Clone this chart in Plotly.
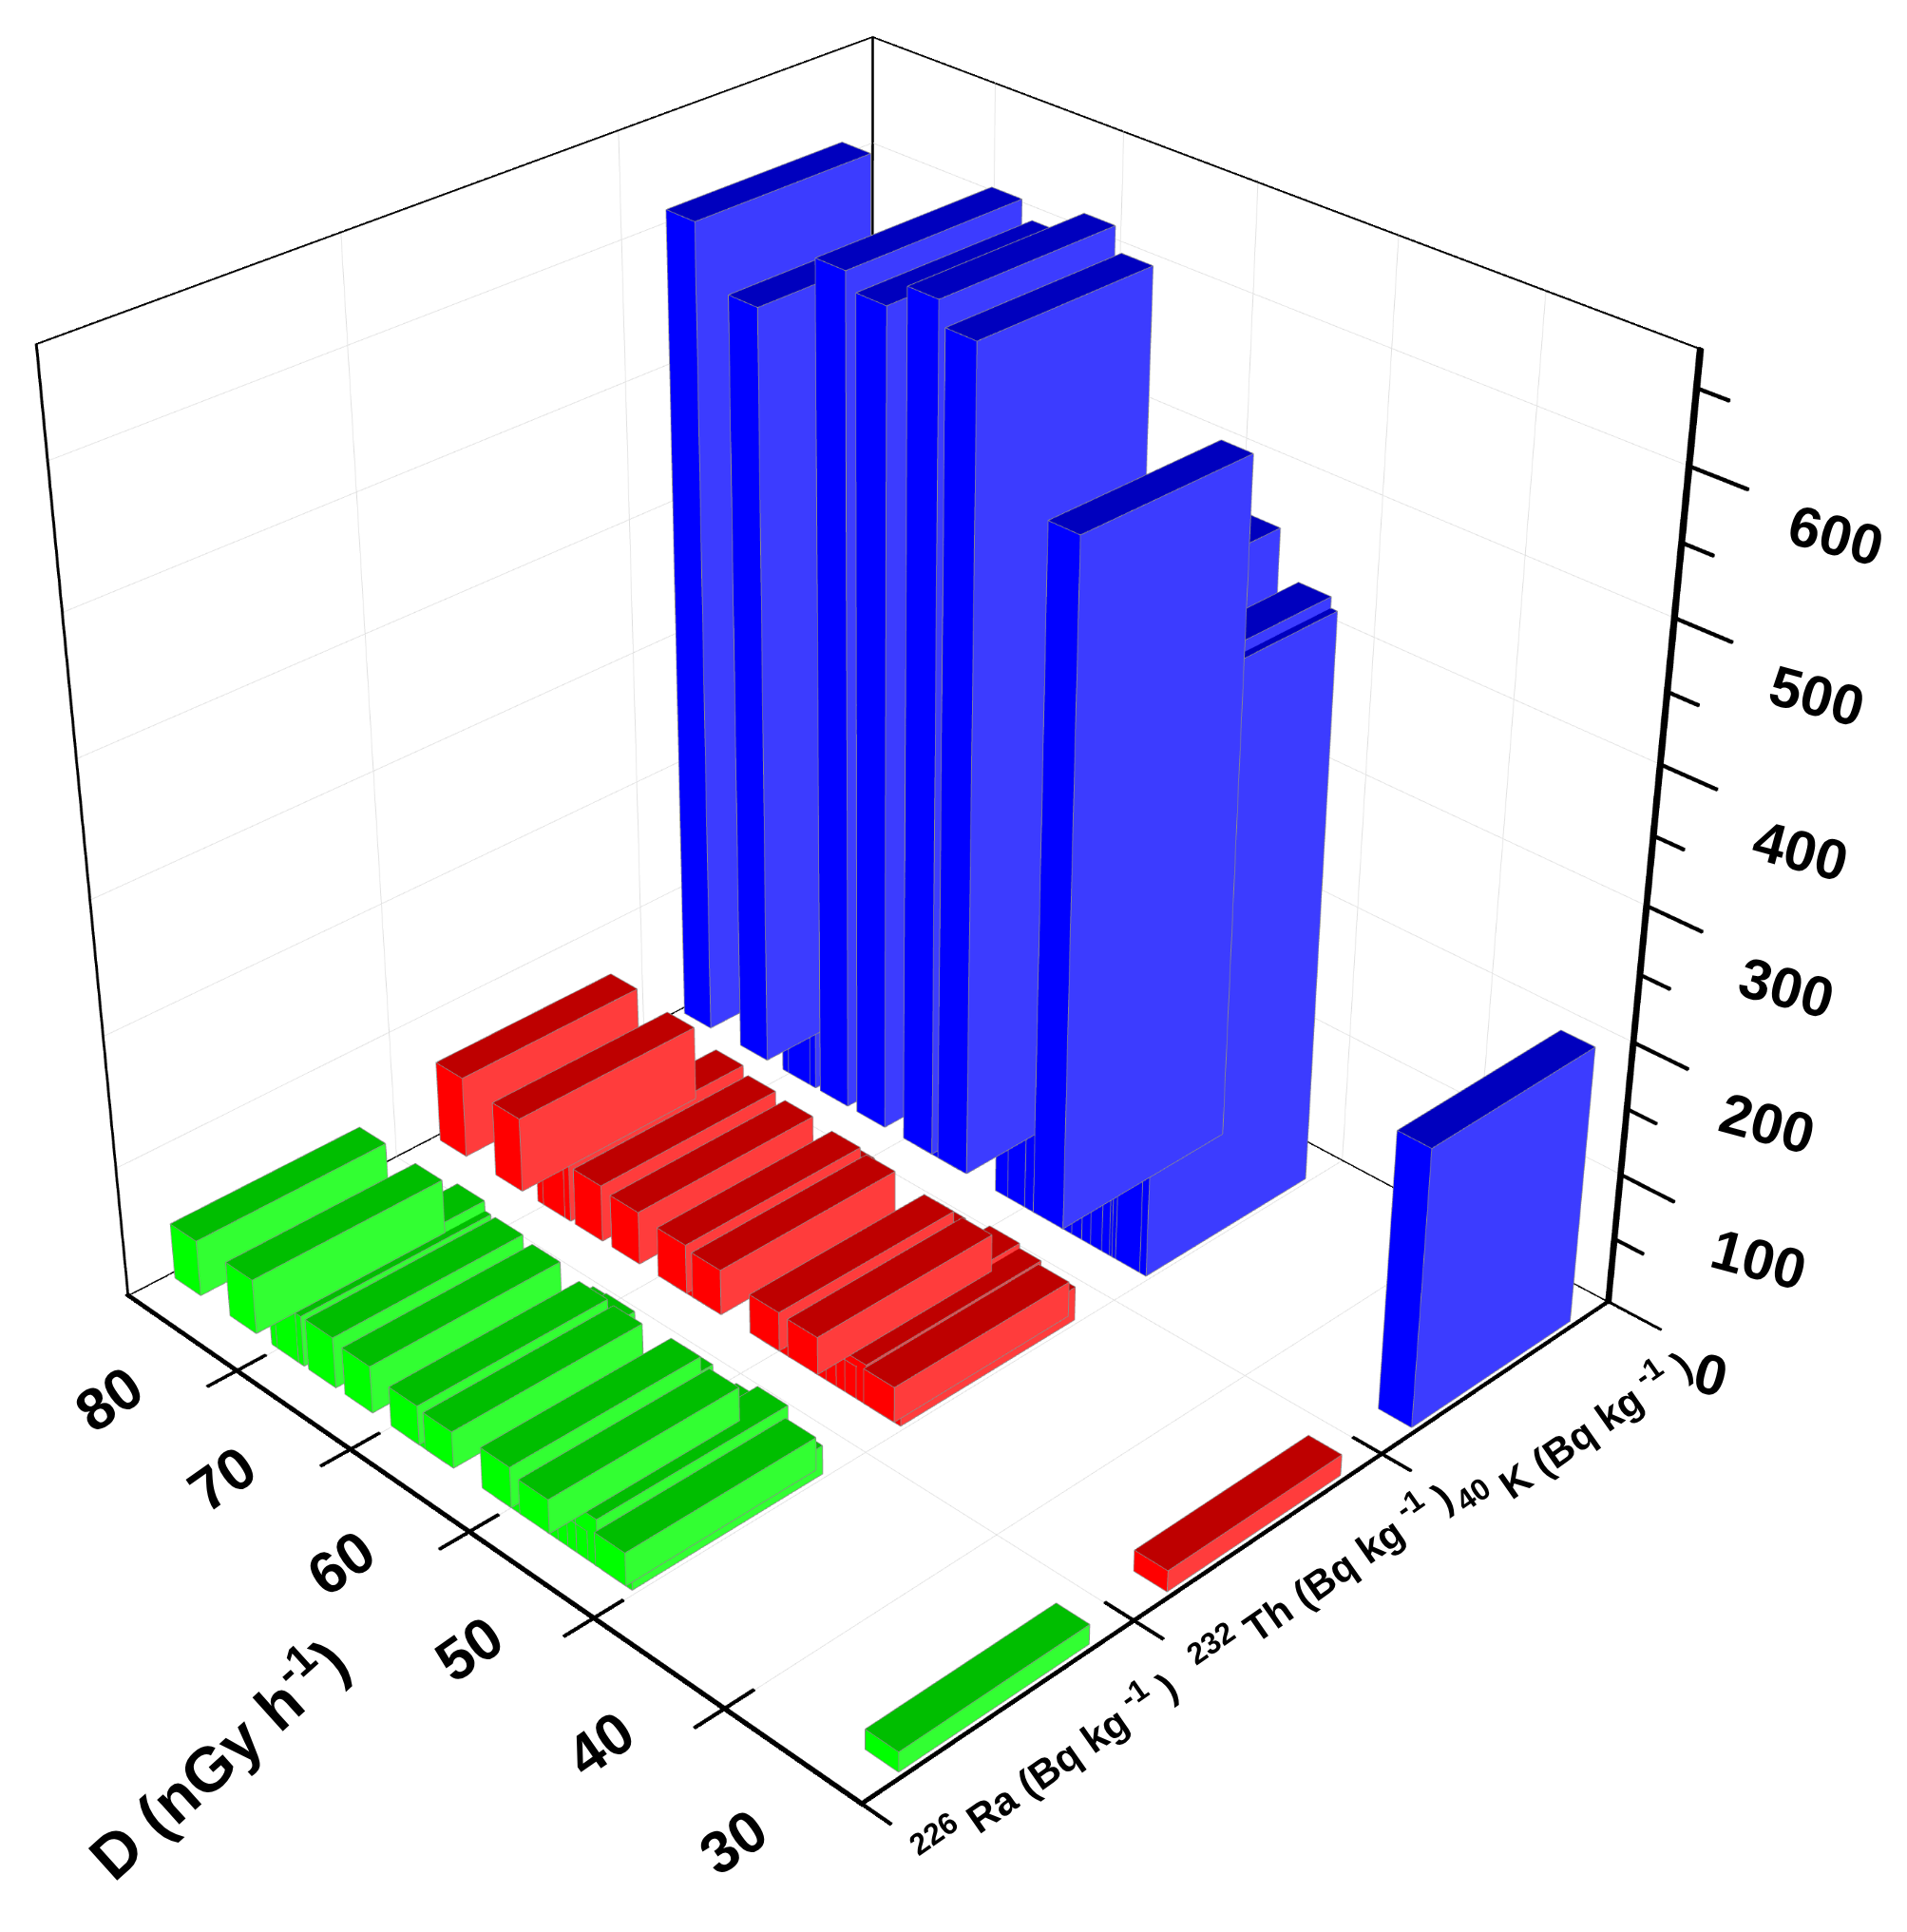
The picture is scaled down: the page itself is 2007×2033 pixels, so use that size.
import math
import plotly.graph_objects as go

# ---- data ----
D_VALUES = [88.3, 83.2, 78.9, 79.4, 76.1, 72.9, 68.9, 67.7, 66.6, 66.0, 61.2, 60.2, 58.1, 55.9, 55.0, 54.2, 52.0, 51.5, 31.6]
RA_226 = [43, 42, 39, 47, 39, 36, 30, 33, 34, 28, 31, 31, 26, 28, 22, 36, 25, 22, 15]
TH_232 = [63, 58, 50, 40, 44, 41, 38, 36, 33, 35, 30, 30, 29, 35, 25, 31, 27, 26, 16]
K_40 = [612, 571, 500, 490, 622, 610, 629, 600, 590, 612, 450, 440, 513, 470, 400, 405, 438, 430, 210]
UNDER_RA_TH = [0, 0, 1, 1, 0, 0, 0, 1, 1, 0, 0, 1, 0, 1, 1, 1, 0, 1, 0]
UNDER_K = [0, 0, 1, 1, 0, 0, 0, 1, 1, 0, 1, 1, 0, 1, 1, 1, 1, 1, 0]
D_TICKS = [30, 40, 50, 60, 70, 80]
Z_TICKS = [0, 100, 200, 300, 400, 500, 600]
Z_MINOR = [50, 150, 250, 350, 450, 550, 650]
SUP = '<sup><span style="font-size:32px">{}</span></sup>'
CATEGORY_LABELS = [SUP.format("226") + " Ra (Bq kg" + SUP.format(" -1") + " )",
                   SUP.format("232") + " Th (Bq kg" + SUP.format(" -1") + " )",
                   SUP.format("40") + " K (Bq kg" + SUP.format(" -1") + " )"]
AXIS_TITLE = "D (nGy h<sup>-1</sup>)"

W, H = 2007, 2033
BIG = 4250              # canvas large enough that plotly's fixed field of view gives the weak perspective of the reference
CENTER_PX = (913, 895)  # where the middle of the box falls in the page
LEFT, TOP = CENTER_PX[0] - BIG / 2, CENTER_PX[1] - BIG / 2

D_MIN, D_MAX = 30, 90
C_MIN, C_MAX = 0.5, 3.5
Z_MAX = 675
BAR_C, BAR_D = 0.70, 2.4
ASPECT_Z = 1.0

SERIES = [
    (RA_226, UNDER_RA_TH, 1, "#32ff32", "#00ff00", "#00be00"),
    (TH_232, UNDER_RA_TH, 2, "#ff3c3c", "#ff0000", "#be0000"),
    (K_40, UNDER_K, 3, "#3c3cff", "#0000ff", "#0000be"),
]

QUADS = [(0, 1, 5, 4), (3, 0, 4, 7), (4, 5, 6, 7), (1, 2, 6, 5), (2, 3, 7, 6), (0, 3, 2, 1)]
EDGES = [(0, 1), (1, 5), (5, 4), (4, 0), (0, 3), (3, 7), (7, 4), (5, 6), (6, 7)]
PX_C, PX_D, PX_Z = 3 / 1165, 60 / 1165, 675 / ASPECT_Z / 1165   # data units per pixel


def box_mesh(mesh, c0, c1, d0, d1, z0, z1, colors):
    xs, ys, zs, i, j, k, fc = mesh
    n = len(xs)
    xs += [c0, c1, c1, c0, c0, c1, c1, c0]
    ys += [d0, d0, d1, d1, d0, d0, d1, d1]
    zs += [z0, z0, z0, z0, z1, z1, z1, z1]
    for q, col in zip(QUADS, colors):
        i += [n + q[0], n + q[0]]
        j += [n + q[1], n + q[2]]
        k += [n + q[2], n + q[3]]
        fc += [col, col]


def bars(values, under, cat, face, side, top, layer):
    mesh = ([], [], [], [], [], [], [])
    ex, ey, ez = [], [], []
    xs, ys, zs = mesh[:3]
    for d, v, u in zip(D_VALUES, values, under):
        if u != layer:
            continue
        n = len(xs)
        box_mesh(mesh, cat - BAR_C / 2, cat + BAR_C / 2, d - BAR_D / 2, d + BAR_D / 2, 0, v,
                 [face, side, top, face, face, face])
        # edges sit a hair in front of the faces so they are not lost in them
        for a, b in EDGES:
            ex += [xs[n + a] - PX_C, xs[n + b] - PX_C, None]
            ey += [ys[n + a] - PX_D, ys[n + b] - PX_D, None]
            ez += [zs[n + a] + PX_Z, zs[n + b] + PX_Z, None]
    return mesh, ex, ey, ez


def line(xs, ys, zs, color="black", width=1, scene="scene"):
    return go.Scatter3d(x=xs, y=ys, z=zs, mode="lines", scene=scene, hoverinfo="skip", showlegend=False,
                        line=dict(color=color, width=width))


def mesh_trace(mesh, scene):
    xs, ys, zs, i, j, k, fc = mesh
    return go.Mesh3d(x=xs, y=ys, z=zs, i=i, j=j, k=k, facecolor=fc, flatshading=True, scene=scene,
                     hoverinfo="skip", showscale=False,
                     lighting=dict(ambient=1, diffuse=0, specular=0, fresnel=0, roughness=1))


def rod(mesh, p0, p1, t):
    """black frame segment of about t pixels thickness"""
    hc, hd, hz = t * PX_C / 2, t * PX_D / 2, t * PX_Z / 2
    c0, c1 = sorted((p0[0], p1[0])); d0, d1 = sorted((p0[1], p1[1])); z0, z1 = sorted((p0[2], p1[2]))
    box_mesh(mesh, c0 - hc, c1 + hc, d0 - hd, d1 + hd, z0 - hz, z1 + hz, ["black"] * 6)


fig = go.Figure()

# grid on floor and back walls
gx, gy, gz = [], [], []
for d in D_TICKS[1:]:
    gx += [C_MIN, C_MAX, C_MAX, None]; gy += [d, d, d, None]; gz += [0, 0, Z_MAX, None]
for c in (1.5, 2.5):
    gx += [c, c, c, None]; gy += [D_MIN, D_MAX, D_MAX, None]; gz += [0, 0, Z_MAX, None]
for z in Z_TICKS[1:]:
    gx += [C_MIN, C_MAX, C_MAX, None]; gy += [D_MAX, D_MAX, D_MIN, None]; gz += [z, z, z, None]
fig.add_trace(line(gx, gy, gz, color="#dedede", width=1))

frame = ([], [], [], [], [], [], [])
rod(frame, (C_MIN, D_MIN, 0), (C_MIN, D_MAX, 0), 4.5)
rod(frame, (C_MIN, D_MIN, 0), (C_MAX, D_MIN, 0), 4)
rod(frame, (C_MAX, D_MIN, 0), (C_MAX, D_MIN, Z_MAX), 5)
rod(frame, (C_MIN, D_MAX, 0), (C_MIN, D_MAX, Z_MAX), 2)
rod(frame, (C_MAX, D_MAX, 0), (C_MAX, D_MAX, Z_MAX), 2)
rod(frame, (C_MIN, D_MAX, Z_MAX), (C_MAX, D_MAX, Z_MAX), 2)
rod(frame, (C_MAX, D_MIN, Z_MAX), (C_MAX, D_MAX, Z_MAX), 2)
rod(frame, (C_MIN, D_MAX, 0), (C_MAX, D_MAX, 0), 1.5)
rod(frame, (C_MAX, D_MIN, 0), (C_MAX, D_MAX, 0), 1.5)
for d in D_TICKS[1:]:
    rod(frame, (C_MIN - 0.1, d, 0), (C_MIN + 0.1, d, 0), 3.5)
for c in (1.5, 2.5):
    rod(frame, (c, D_MIN - 2, 0), (c, D_MIN + 2, 0), 3.5)
rod(frame, (C_MIN, D_MIN - 2, 0), (C_MIN, D_MIN, 0), 3.5)
for z in Z_TICKS:
    rod(frame, (C_MAX, D_MIN - 3.7, z), (C_MAX, D_MIN, z), 3)
for z in Z_MINOR:
    rod(frame, (C_MAX, D_MIN - 2, z), (C_MAX, D_MIN, z), 3)
fig.add_trace(mesh_trace(frame, "scene"))

for layer, scene in ((1, "scene"), (0, "scene2")):
    for values, under, cat, face, side, top in SERIES:
        mesh, ex, ey, ez = bars(values, under, cat, face, side, top, layer)
        fig.add_trace(mesh_trace(mesh, scene))
        fig.add_trace(line(ex, ey, ez, color="#8c8c8c", width=1, scene=scene))

# camera
elev = math.radians(31.0)
azim = math.radians(45.4)
dist = 4.4
eye = dict(x=-dist * math.cos(elev) * math.cos(azim), y=-dist * math.cos(elev) * math.sin(azim), z=dist * math.sin(elev))
R_C = [0.2, 3.8]
R_D = [20, 100]
R_Z = [0, Z_MAX]
hidden = dict(visible=False)
scene_layout = dict(
    domain=dict(x=[0, 1], y=[0, 1]),
    xaxis=dict(range=R_C, **hidden),
    yaxis=dict(range=R_D, **hidden),
    zaxis=dict(range=R_Z, **hidden),
    aspectmode="manual",
    aspectratio=dict(x=(R_C[1] - R_C[0]) / 3, y=(R_D[1] - R_D[0]) / 60, z=ASPECT_Z),
    camera=dict(eye=eye, center=dict(x=0, y=0, z=0), up=dict(x=0, y=0, z=1), projection=dict(type="perspective")),
    bgcolor="rgba(0,0,0,0)",
)


def ann(text, px, py, size, angle):
    return dict(text=text, x=(px - LEFT) / BIG, y=1 - (py - TOP) / BIG, xref="paper", yref="paper", showarrow=False,
                textangle=angle, xanchor="center", yanchor="middle",
                font=dict(family="Liberation Sans", size=size, color="black", weight="bold"))


annotations = []
for t, (px, py) in zip(D_TICKS[::-1], [(114, 1472), (233, 1556), (359, 1644), (493, 1735), (631, 1835), (771, 1938)]):
    annotations.append(ann(str(t), px, py, 62, -35))
annotations.append(ann(AXIS_TITLE, 227, 1848, 66, -42))
for t, (px, py) in zip(CATEGORY_LABELS, [(1099, 1860), (1390, 1660), (1657, 1510)]):
    annotations.append(ann(t, px, py, 42, -35))
for t, (px, py) in zip(Z_TICKS[::-1], [(1932, 564), (1912, 733), (1895, 895), (1880, 1040), (1860, 1182), (1851, 1325), (1800, 1446)]):
    annotations.append(ann(str(t), px, py, 60, 15))

fig.update_layout(width=BIG, height=BIG, margin=dict(l=0, r=0, t=0, b=0), paper_bgcolor="white", showlegend=False,
                  scene=scene_layout, scene2=scene_layout, annotations=annotations)

fig.write_html("out.html", config=dict(displayModeBar=False),
               post_script=("document.documentElement.style.overflow='hidden';document.body.style.margin='0';"
                            "document.body.style.overflow='hidden';"
                            "var g=document.querySelector('.plotly-graph-div');g.style.position='fixed';"
                            f"g.style.left='{LEFT}px';g.style.top='{TOP}px';"))
